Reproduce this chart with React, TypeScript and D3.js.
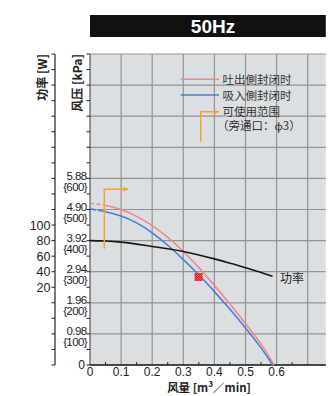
import React from "react";
import * as d3 from "d3";

const flowX = [0, 0.05, 0.1, 0.15, 0.2, 0.25, 0.3, 0.35, 0.4, 0.45, 0.5, 0.55];
const dischargeY = [520, 513, 500, 478, 448, 410, 365, 313, 256, 196, 133, 67];
const dischargeEnd = 0.592;
const suctionY = [502, 493, 479, 457, 425, 385, 339, 290, 236, 179, 119, 55];
const suctionEnd = 0.587;
const powerW = [80, 79.5, 78, 75.5, 72.5, 69.5, 66, 61.5, 56.5, 51, 45, 39];
const powerEnd = { x: 0.587, w: 34 };

const xTicks = [0, 0.1, 0.2, 0.3, 0.4, 0.5, 0.6];
const xGrid = [0.1, 0.2, 0.3, 0.4, 0.5, 0.6, 0.7];
const pressureTicks = [0, 100, 200, 300, 400, 500, 600];
const kpaLabels = ["0", "0.98", "1.96", "2.94", "3.92", "4.90", "5.88"];
const powerLabels = [20, 40, 60, 80, 100];
const operatingPoint = { x: 0.349, y: 283 };
const usableRange = { x0: 0.046, x1: 0.122, yTop: 565, yBottom: 374 };

const PINK = "#f0878f";
const BLUE = "#4b7fd1";
const ORANGE = "#f5a51f";
const BG = "#dcdfe2";
const GRID = "#939393";
const FONT = "'Liberation Sans', Arial, sans-serif";
const CJK = "'Noto Sans CJK SC', 'Noto Sans', sans-serif";

export default function App() {
  const left = 90, right = 324.8, top = 54, bottom = 365;
  const x = d3.scaleLinear().domain([0, 0.755]).range([left, right]);
  const y = d3.scaleLinear().domain([0, 1000]).range([bottom, top]);
  const yp = d3.scaleLinear().domain([-80, 320]).range([bottom, top]);

  const pts = (ys: number[], endX: number, endY: number) =>
    flowX.map((v, i) => [v, ys[i]] as [number, number]).concat([[endX, endY]]);
  const line = d3
    .line<[number, number]>()
    .x((d) => x(d[0]))
    .y((d) => y(d[1]))
    .curve(d3.curveNatural);
  const pline = d3
    .line<[number, number]>()
    .x((d) => x(d[0]))
    .y((d) => yp(d[1]))
    .curve(d3.curveNatural);

  const dis = line(pts(dischargeY, dischargeEnd, 0)) || "";
  const suc = line(pts(suctionY, suctionEnd, 0)) || "";
  const pow = pline(pts(powerW, powerEnd.x, powerEnd.w)) || "";

  const halfSteps = d3.range(0, 1001, 50);
  const powerTickVals = d3.range(-80, 321, 20);
  const xMinor = d3.range(0.05, 0.75, 0.1);
  const cut = x(usableRange.x0);

  return (
    <svg
      width={328}
      height={396}
      style={{ position: "absolute", left: 0, top: 0, background: "#fff" }}
      fontFamily={FONT}
    >
      <defs>
        <pattern id="chk" width="2" height="2" patternUnits="userSpaceOnUse">
          <rect width="2" height="2" fill="#f25a66" />
          <rect width="1" height="1" fill="#e0101e" />
          <rect x="1" y="1" width="1" height="1" fill="#e0101e" />
        </pattern>
        <clipPath id="clipSolid">
          <rect x={cut} y={top} width={right - cut} height={bottom - top + 2} />
        </clipPath>
        <clipPath id="clipDash">
          <rect x={left} y={top} width={cut - left} height={bottom - top + 2} />
        </clipPath>
        <marker id="arr" viewBox="0 0 10 10" refX="9" refY="5" markerWidth="6" markerHeight="5" orient="auto" markerUnits="userSpaceOnUse">
          <path d="M0,0 L10,5 L0,10 z" fill={ORANGE} />
        </marker>
      </defs>

      {/* title bar */}
      <rect x={left} y={15} width={right - left + 1} height={22} fill="#111" />
      <text x={213} y={33} textAnchor="middle" fill="#fff" fontSize={19} fontWeight="bold">
        50Hz
      </text>

      {/* plot background */}
      <rect x={left} y={top} width={right - left + 1} height={bottom - top} fill={BG} />

      {/* grid */}
      {xGrid.map((v) => (
        <line key={"gx" + v} x1={x(v)} x2={x(v)} y1={top} y2={bottom} stroke={GRID} strokeWidth={1.2} />
      ))}
      {d3.range(100, 1001, 100).map((v) => (
        <line key={"gy" + v} x1={left} x2={right + 1} y1={y(v)} y2={y(v)} stroke={GRID} strokeWidth={1.2} />
      ))}

      {/* left pressure axis */}
      <line x1={left} x2={left} y1={top} y2={bottom} stroke="#555" strokeWidth={1.2} />
      {halfSteps.map((v) => (
        <line key={"pt" + v} x1={left - 3.5} x2={left} y1={y(v)} y2={y(v)} stroke="#222" strokeWidth={1} />
      ))}
      {pressureTicks.map((v, i) =>
        v === 0 ? (
          <text key={"pl" + v} x={85} y={y(v) + 4} textAnchor="end" fontSize={12} fill="#222">
            0
          </text>
        ) : (
          <g key={"pl" + v} fontSize={11.5} fill="#222" letterSpacing={-0.6}>
            <text x={86.5} y={y(v) + 1.5} textAnchor="end">
              {kpaLabels[i]}
            </text>
            <text x={87} y={y(v) + 12.5} textAnchor="end">
              {"{" + v + "}"}
            </text>
          </g>
        )
      )}

      {/* power axis */}
      <line x1={55} x2={55} y1={top} y2={bottom} stroke="#222" strokeWidth={1.2} />
      {powerTickVals.map((v) => (
        <line key={"wt" + v} x1={51.5} x2={55} y1={yp(v)} y2={yp(v)} stroke="#222" strokeWidth={1} />
      ))}
      {powerLabels.map((v) => (
        <text key={"wl" + v} x={50.5} y={yp(v) + 4.5} textAnchor="end" fontSize={12.5} fill="#222">
          {v}
        </text>
      ))}

      {/* axis titles */}
      <text
        transform={`translate(82,${top}) rotate(-90)`}
        textAnchor="end"
        fontSize={12}
        fontWeight="bold"
        fill="#222"
        fontFamily={CJK}
      >
        风压 [kPa]
      </text>
      <text
        transform={`translate(47,${top}) rotate(-90)`}
        textAnchor="end"
        fontSize={12}
        fontWeight="bold"
        fill="#222"
        fontFamily={CJK}
      >
        功率 [W]
      </text>

      {/* bottom axis */}
      <line x1={left} x2={right + 1} y1={bottom} y2={bottom} stroke="#111" strokeWidth={1.5} />
      {xMinor.map((v) => (
        <line key={"xm" + v} x1={x(v)} x2={x(v)} y1={bottom - 3} y2={bottom} stroke="#222" strokeWidth={1} />
      ))}
      {xTicks.map((v) => (
        <text key={"xl" + v} x={x(v)} y={375.5} textAnchor="middle" fontSize={12} fill="#222">
          {v === 0 ? "0" : v.toFixed(1)}
        </text>
      ))}
      <text x={209} y={392} textAnchor="middle" fontSize={11.5} fontWeight="bold" fill="#222" fontFamily={CJK}>
        风量 [m³／min]
      </text>

      {/* curves */}
      <path d={dis} fill="none" stroke={PINK} strokeWidth={1.6} clipPath="url(#clipSolid)" />
      <path d={dis} fill="none" stroke={PINK} strokeWidth={1.6} strokeDasharray="4,2.5" clipPath="url(#clipDash)" />
      <path d={suc} fill="none" stroke={BLUE} strokeWidth={1.6} clipPath="url(#clipSolid)" />
      <path d={suc} fill="none" stroke={BLUE} strokeWidth={1.6} strokeDasharray="6,2" clipPath="url(#clipDash)" />
      <path d={pow} fill="none" stroke="#161616" strokeWidth={1.6} />
      <text x={280} y={283} fontSize={12} fill="#222" fontFamily={CJK}>
        功率
      </text>

      {/* operating point */}
      <rect
        x={x(operatingPoint.x) - 4}
        y={y(operatingPoint.y) - 4}
        width={8}
        height={8}
        fill="url(#chk)"
      />

      {/* usable range bracket */}
      <path
        d={`M${x(usableRange.x0)},${y(usableRange.yBottom)} L${x(usableRange.x0)},${y(usableRange.yTop)} L${x(usableRange.x1)},${y(usableRange.yTop)}`}
        fill="none"
        stroke={ORANGE}
        strokeWidth={1.5}
        markerEnd="url(#arr)"
      />

      {/* legend */}
      <line x1={180.7} x2={219} y1={79.3} y2={79.3} stroke={PINK} strokeWidth={1.5} />
      <line x1={180.7} x2={219} y1={95} y2={95} stroke={BLUE} strokeWidth={1.5} />
      <path d="M200.7,141.7 L200.7,111.7 L218.5,111.7" fill="none" stroke={ORANGE} strokeWidth={1.5} markerEnd="url(#arr)" />
      <g fontSize={11.5} fill="#333" fontFamily={CJK}>
        <text x={222.5} y={83.5}>吐出側封闭时</text>
        <text x={222.5} y={99.5}>吸入側封闭时</text>
        <text x={222.5} y={115.5}>可使用范围</text>
        <text x={217} y={130}>（旁通口：ϕ3）</text>
      </g>
    </svg>
  );
}
